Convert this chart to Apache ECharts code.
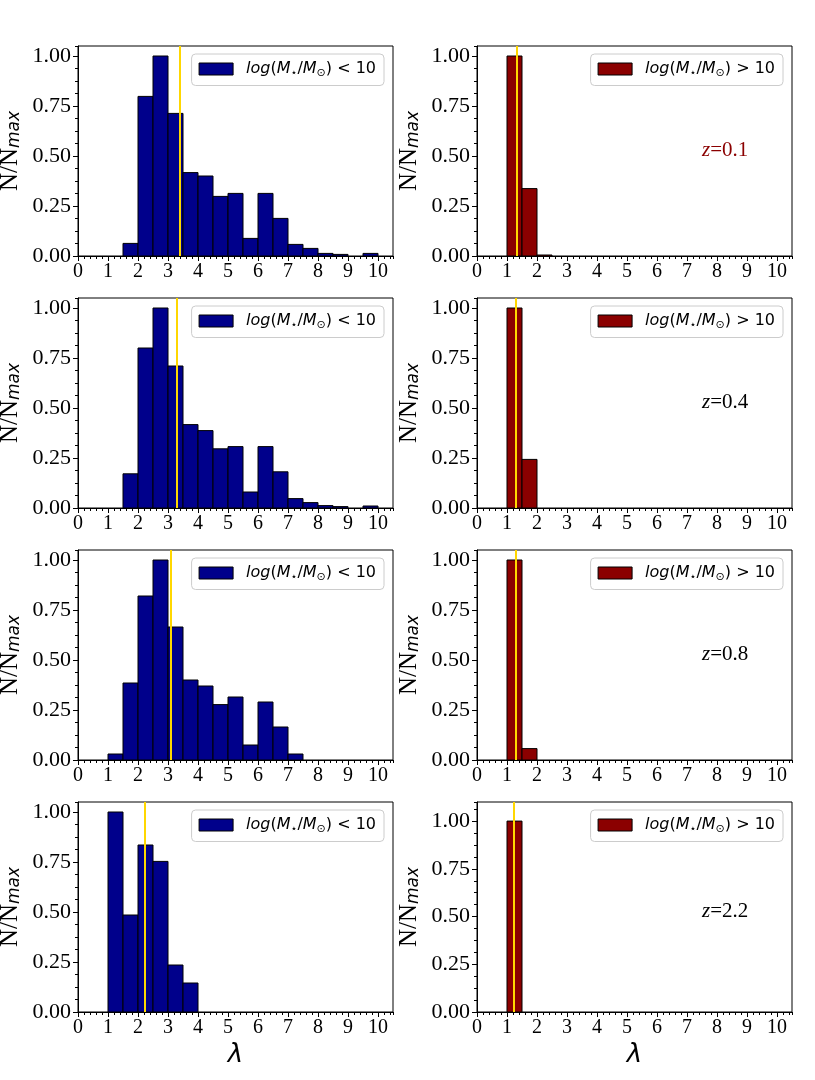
<!DOCTYPE html>
<html><head><meta charset="utf-8">
<script src="https://cdn.jsdelivr.net/npm/echarts@6/dist/echarts.min.js"></script>
<style>html,body{margin:0;padding:0;background:#fff}#c{width:815px;height:1080px}</style>
</head><body><div id="c"></div>
<script>
// ---- data ----
const binStarts = [1.0,1.5,2.0,2.5,3.0,3.5,4.0,4.5,5.0,5.5,6.0,6.5,7.0,7.5,8.0,8.5,9.0,9.5];
const binWidth = 0.5;
const lowMass_z01 = [0,0.063,0.798,1.0,0.713,0.417,0.400,0.298,0.313,0.088,0.313,0.188,0.058,0.038,0.013,0.008,0,0.013];
const lowMass_z04 = [0,0.171,0.800,1.0,0.710,0.417,0.387,0.296,0.307,0.080,0.307,0.181,0.047,0.027,0.012,0.007,0,0.010];
const lowMass_z08 = [0.030,0.385,0.820,1.0,0.665,0.400,0.370,0.277,0.315,0.075,0.290,0.165,0.030,0,0,0,0,0];
const lowMass_z22 = [1.0,0.485,0.835,0.753,0.235,0.145,0,0,0,0,0,0,0,0,0,0,0,0];
const highMass_z01 = [1.0,0.337,0.005,0,0,0,0,0,0,0,0,0,0,0,0,0,0,0];
const highMass_z04 = [1.0,0.243,0,0,0,0,0,0,0,0,0,0,0,0,0,0,0,0];
const highMass_z08 = [1.0,0.057,0,0,0,0,0,0,0,0,0,0,0,0,0,0,0,0];
const highMass_z22 = [1.0,0,0,0,0,0,0,0,0,0,0,0,0,0,0,0,0,0];
const meanLowMass = [3.40,3.29,3.09,2.22];
const meanHighMass = [1.31,1.28,1.28,1.22];
const redshiftLabels = ['z=0.1','z=0.4','z=0.8','z=2.2'];
const redshiftColors = ['#8B0000','#000000','#000000','#000000'];
const yMaxLeft = [1.05,1.05,1.05,1.05];
const yMaxRight = [1.05,1.05,1.05,1.10];
const nameLow = 'log(M*/Msun) < 10';
const nameHigh = 'log(M*/Msun) > 10';

const lowSets = [lowMass_z01,lowMass_z04,lowMass_z08,lowMass_z22];
const highSets = [highMass_z01,highMass_z04,highMass_z08,highMass_z22];

// ---- layout ----
const rowTops = [46,298,550,802];
const gridH = 210;
const colLefts = [78,477];
const gridW = 315;
const W = 815;

const serif = 'Liberation Serif';
const sans = 'DejaVu Sans';

const grids=[], xAxes=[], yAxes=[], series=[], legends=[];

function legendRich(op){
  const fs = 16;
  return {
    formatter: () => '{i0|log}{n|(}{i|M}{s|⋆}{n|/}{i|M}{s|⊙}{n|) ' + op + ' 10}',
    rich: {
      i0:{fontFamily:sans,fontStyle:'italic',fontSize:fs,color:'#000',padding:[0,0,0,8],lineHeight:19},
      i:{fontFamily:sans,fontStyle:'italic',fontSize:fs,color:'#000',lineHeight:19},
      n:{fontFamily:sans,fontSize:fs,color:'#000',lineHeight:19},
      s:{fontFamily:sans,fontSize:11,color:'#000',lineHeight:8,verticalAlign:'bottom'}
    }
  };
}

for(let r=0;r<4;r++){
  for(let c=0;c<2;c++){
    const g = r*2+c;
    const ymax = c===0 ? yMaxLeft[r] : yMaxRight[r];
    grids.push({left:colLefts[c], top:rowTops[r], width:gridW, height:gridH, show:true,
      containLabel:false, outerBoundsMode:'none',
      borderColor:'#000', borderWidth:1, backgroundColor:'transparent'});
    const bottomRow = r===3;
    xAxes.push({
      type:'value', gridIndex:g, min:0, max:10.5, interval:1,
      axisLine:{show:true,onZero:false,lineStyle:{color:'#000',width:1}},
      axisTick:{show:true,inside:false,length:5,lineStyle:{color:'#000'}},
      axisLabel:{show:true,showMaxLabel:false,fontFamily:serif,fontSize:20,color:'#000',margin:6,formatter:v=>String(v)},
      splitLine:{show:false},
      name: bottomRow ? 'λ' : '', nameLocation:'middle', nameGap:30,
      nameTextStyle:{fontFamily:sans,fontStyle:'italic',fontSize:26,color:'#000'}
    });
    xAxes.push({
      type:'value', gridIndex:g, min:0, max:10.5, interval:0.2, position:'bottom',
      axisLine:{show:false}, axisLabel:{show:false}, splitLine:{show:false},
      axisTick:{show:true,inside:false,length:3,lineStyle:{color:'#000'}}
    });
    yAxes.push({
      type:'value', gridIndex:g, min:0, max:ymax, interval:0.25,
      axisLine:{show:true,onZero:false,lineStyle:{color:'#000',width:1}},
      axisTick:{show:true,inside:false,length:5,lineStyle:{color:'#000'}},
      axisLabel:{show:true,showMaxLabel:false,fontFamily:serif,fontSize:22,color:'#000',margin:7,formatter:v=>v.toFixed(2)},
      splitLine:{show:false},
      name:'{a|N/N}{b|max}', nameLocation:'middle', nameRotate:90, nameGap:55,
      nameTextStyle:{rich:{
        a:{fontFamily:serif,fontSize:25,color:'#000',lineHeight:26},
        b:{fontFamily:sans,fontStyle:'italic',fontSize:17,color:'#000',lineHeight:12,verticalAlign:'bottom'}
      }}
    });
    yAxes.push({
      type:'value', gridIndex:g, min:0, max:ymax, interval:0.0625, position:'left',
      axisLine:{show:false}, axisLabel:{show:false}, splitLine:{show:false},
      axisTick:{show:true,inside:false,length:3,lineStyle:{color:'#000'}}
    });
    const vals = c===0 ? lowSets[r] : highSets[r];
    const fill = c===0 ? '#00008B' : '#8B0000';
    const nm = c===0 ? nameLow : nameHigh;
    series.push({
      type:'custom', name:nm, xAxisIndex:2*g, yAxisIndex:2*g,
      itemStyle:{color:fill, borderColor:'#000', borderWidth:1},
      data: binStarts.map((b,k)=>[b, b+binWidth, vals[k]]),
      encode:{x:[0,1], y:2},
      renderItem:(params, api)=>{
        const v = api.value(2);
        if(!v) return null;
        const p0 = api.coord([api.value(0), v]);
        const p1 = api.coord([api.value(1), 0]);
        return {type:'rect', shape:{x:p0[0], y:p0[1], width:p1[0]-p0[0], height:p1[1]-p0[1]},
          style:{fill:fill, stroke:'#000', lineWidth:1}};
      },
      markLine:{silent:true, symbol:'none', animation:false, label:{show:false},
        lineStyle:{color:'#FFD700', width:2, type:'solid'},
        emphasis:{disabled:true},
        data:[{xAxis: c===0 ? meanLowMass[r] : meanHighMass[r]}]},
      animation:false
    });
    if(c===1){
      const col = redshiftColors[r];
      series.push({
        type:'scatter', xAxisIndex:2*g, yAxisIndex:2*g, symbolSize:0, silent:true,
        itemStyle:{color:col, opacity:1},
        data:[[7.5,0.5]],
        label:{show:true, position:'right', distance:0, align:'left', verticalAlign:'bottom', offset:[0,5],
          color:col, opacity:1, textBorderWidth:0, textBorderColor:'transparent',
          formatter:()=>'{z|z}{t|' + redshiftLabels[r].slice(1) + '}',
          rich:{
            z:{fontFamily:serif,fontStyle:'italic',fontSize:21,color:col,textBorderWidth:0},
            t:{fontFamily:serif,fontSize:21,color:col,textBorderWidth:0}
          }},
        animation:false
      });
    }
    const lr = legendRich(c===0 ? '<' : '>');
    legends.push({
      data:[nm], top: rowTops[r]+8, right: W - (colLefts[c]+gridW-9),
      icon:'rect', itemWidth:34, itemHeight:12, itemGap:0,
      itemStyle:{borderColor:'#000', borderWidth:1},
      backgroundColor:'rgba(255,255,255,0.8)', borderColor:'#cccccc', borderWidth:1, borderRadius:4,
      padding:[7,8,7,7], selectedMode:false,
      formatter: lr.formatter, textStyle:{rich:lr.rich, fontFamily:sans, fontSize:16}
    });
  }
}

const chart = echarts.init(document.getElementById('c'), null, {renderer:'canvas'});
chart.setOption({
  backgroundColor:'#fff', animation:false,
  grid:grids, xAxis:xAxes, yAxis:yAxes, series:series, legend:legends
});
</script></body></html>
